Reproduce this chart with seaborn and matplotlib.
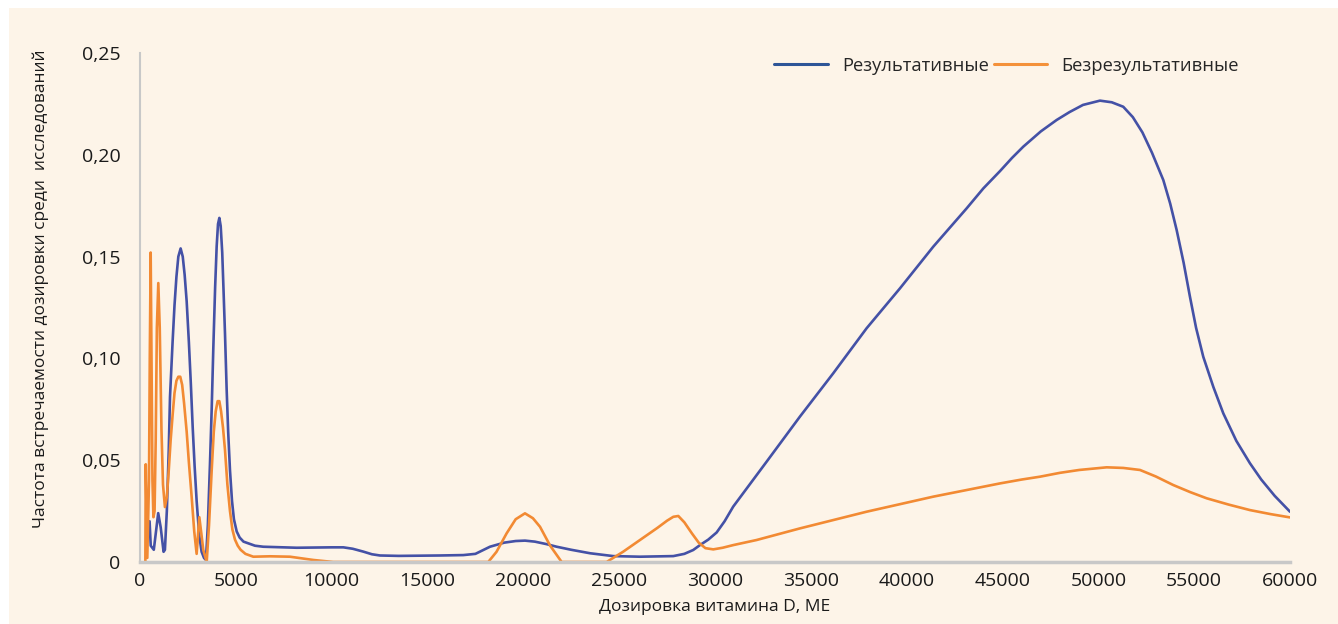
import matplotlib
matplotlib.use("Agg")

import matplotlib.pyplot as plt
import matplotlib.patches as mpatches
from matplotlib.ticker import MultipleLocator, FuncFormatter
import seaborn as sns
import pandas as pd

# Результативные (blue)
res_x = [500, 560, 720, 950, 1080, 1230, 1300, 1400, 1500, 1565, 1700, 1800, 1900,
         2000, 2120, 2230, 2330, 2435, 2550, 2650, 2750, 2850, 2955, 3090, 3215, 3340,
         3440, 3540, 3650, 3740, 3825, 3920, 4000, 4070, 4140, 4210, 4290, 4360, 4435,
         4520, 4600, 4695, 4800, 4900, 5045, 5200, 5400, 5700, 6000, 6430, 8175, 10000,
         10610, 11100, 11650, 12100, 12520, 13500, 15650, 16870, 17500, 18260, 19000,
         19600, 20085, 20600, 21200, 21740, 22500, 23480, 24690, 26085, 27825, 28400,
         28865, 29215, 29650, 30085, 30500, 30950, 32695, 34430, 36170, 37910, 39650,
         41390, 43130, 44000, 44870, 45500, 46085, 47000, 47825, 48500, 49200, 50085,
         50700, 51300, 51800, 52300, 52800, 53390, 53750, 54085, 54450, 54780, 55100,
         55475, 56000, 56520, 57200, 57910, 58500, 59200, 60000]
res_y = [0.020, 0.008, 0.006, 0.024, 0.017, 0.005, 0.006, 0.025, 0.055, 0.081, 0.108,
         0.126, 0.140, 0.150, 0.154, 0.150, 0.141, 0.128, 0.108, 0.088, 0.066, 0.047,
         0.030, 0.013, 0.005, 0.002, 0.001, 0.018, 0.048, 0.075, 0.105, 0.135, 0.155,
         0.166, 0.169, 0.165, 0.152, 0.133, 0.112, 0.085, 0.064, 0.045, 0.030, 0.021,
         0.015, 0.012, 0.010, 0.009, 0.008, 0.0075, 0.0070, 0.0072, 0.0072, 0.0065,
         0.0051, 0.0038, 0.0032, 0.0030, 0.0032, 0.0034, 0.0040, 0.0075, 0.0095,
         0.0103, 0.0105, 0.0100, 0.0088, 0.0075, 0.0060, 0.0043, 0.0029, 0.0026,
         0.0029, 0.0040, 0.0059, 0.0083, 0.0110, 0.0145, 0.0200, 0.0272, 0.0493,
         0.0714, 0.0927, 0.1148, 0.1344, 0.1549, 0.1737, 0.1835, 0.1920, 0.1985,
         0.2040, 0.2115, 0.2171, 0.2210, 0.2245, 0.2266, 0.2258, 0.2236, 0.2185,
         0.2110, 0.2010, 0.1876, 0.1760, 0.1631, 0.1470, 0.1303, 0.1150, 0.1008,
         0.0860, 0.0730, 0.0595, 0.0485, 0.0405, 0.0325, 0.0247]

# Безрезультативные (orange)
bez_x = [280, 300, 380, 470, 510, 557, 600, 650, 700, 760, 820, 880, 955, 1030, 1120,
         1200, 1300, 1400, 1500, 1600, 1700, 1800, 1900, 2000, 2100, 2200, 2300, 2435,
         2550, 2695, 2830, 2955, 3095, 3200, 3300, 3480, 3600, 3740, 3850, 3950, 4050,
         4140, 4230, 4330, 4435, 4560, 4695, 4820, 4955, 5100, 5250, 5500, 5910, 6780,
         7825, 9040, 10085, 17000, 18170, 18600, 19130, 19600, 20085, 20500, 20870,
         21400, 22000, 24345, 25200, 26085, 27000, 27500, 27825, 28085, 28400, 28800,
         29150, 29500, 29910, 30400, 30950, 32170, 34430, 37910, 41390, 44870, 46000,
         46955, 48000, 49000, 50435, 51300, 52175, 53000, 53910, 54800, 55650, 56800,
         57910, 59000, 60000]
bez_y = [0.0, 0.048, 0.002, 0.040, 0.100, 0.152, 0.100, 0.040, 0.022, 0.025, 0.060,
         0.115, 0.137, 0.115, 0.065, 0.038, 0.027, 0.032, 0.045, 0.060, 0.072, 0.083,
         0.089, 0.091, 0.091, 0.087, 0.078, 0.064, 0.049, 0.032, 0.015, 0.004, 0.022,
         0.014, 0.006, 0.0, 0.018, 0.045, 0.064, 0.074, 0.079, 0.079, 0.074, 0.066,
         0.055, 0.038, 0.025, 0.016, 0.011, 0.008, 0.006, 0.004, 0.0026, 0.0028,
         0.0026, 0.0010, 0.0, 0.0, 0.0, 0.005, 0.0141, 0.0210, 0.0239, 0.0215, 0.0173,
         0.0080, 0.0, 0.0, 0.0050, 0.0108, 0.0168, 0.0203, 0.0222, 0.0226, 0.0195,
         0.0140, 0.0095, 0.0068, 0.0062, 0.0070, 0.0083, 0.0108, 0.0165, 0.0247,
         0.0321, 0.0386, 0.0405, 0.0419, 0.0438, 0.0452, 0.0465, 0.0462, 0.0452,
         0.0420, 0.0378, 0.0343, 0.0313, 0.0282, 0.0255, 0.0235, 0.0219]

labels = ["Результативные", "Безрезультативные"]
palette = {"Результативные": "#4451a6", "Безрезультативные": "#f28a33"}

df = pd.concat([
    pd.DataFrame({"x": res_x, "y": res_y, "group": labels[0]}),
    pd.DataFrame({"x": bez_x, "y": bez_y, "group": labels[1]}),
])

sns.set_style("white")
plt.rcParams["font.family"] = ["Open Sans", "DejaVu Sans"]

bg = "#fdf4e8"
fig = plt.figure(figsize=(13.38, 6.24), dpi=100)
fig.patch.set_facecolor("white")
fig.patches.append(mpatches.Rectangle((9 / 1338, 0), 1, 1 - 8 / 624,
                                      transform=fig.transFigure, facecolor=bg,
                                      edgecolor="none", zorder=-10))
ax = fig.add_axes([140 / 1338, 1 - 562 / 624, 1150 / 1338, 509 / 624])
ax.set_facecolor(bg)

sns.lineplot(data=df, x="x", y="y", hue="group", palette=palette, estimator=None,
             sort=False, linewidth=1.9, ax=ax)

ax.set_xlim(0, 60000)
ax.set_ylim(0, 0.25)
ax.xaxis.set_major_locator(MultipleLocator(5000))
ax.xaxis.set_minor_locator(MultipleLocator(1000))
ax.yaxis.set_major_locator(MultipleLocator(0.05))
ax.yaxis.set_major_formatter(FuncFormatter(
    lambda v, p: "0" if abs(v) < 1e-9 else f"{v:.2f}".replace(".", ",")))
ax.xaxis.set_major_formatter(FuncFormatter(lambda v, p: f"{int(v)}"))

for s in ["top", "right"]:
    ax.spines[s].set_visible(False)
ax.spines["left"].set_color("#c8c8c8")
ax.spines["left"].set_linewidth(1.5)
ax.spines["bottom"].set_color("#c8c8c8")
ax.spines["bottom"].set_linewidth(2.5)

ax.tick_params(axis="x", which="major", direction="inout", length=9, width=1.2,
               color="#b0b0b0", labelsize=14, pad=3, labelcolor="#1a1a1a")
ax.tick_params(axis="x", which="minor", direction="inout", length=5, width=1,
               color="#b0b0b0")
ax.tick_params(axis="y", which="major", direction="out", length=5, width=1.2,
               color="#c8c8c8", labelsize=14, pad=9, labelcolor="#1a1a1a")

ax.set_xlabel("Дозировка витамина D, МЕ", fontsize=12.5, color="#1a1a1a", labelpad=6)
ax.set_ylabel("Частота встречаемости дозировки среди  исследований", fontsize=12.5,
              color="#1a1a1a")
ax.yaxis.set_label_coords(-0.079, 0.536)

leg = ax.legend(loc="upper right", bbox_to_anchor=(0.97, 1.025), ncol=2, frameon=False,
                fontsize=13.2, handlelength=2.9, columnspacing=0.25, handletextpad=0.8)
for line in leg.get_lines():
    line.set_linewidth(2.2)
leg.get_lines()[0].set_color("#2e5597")
leg.get_lines()[1].set_color("#f4913a")

fig.savefig("out.png", dpi=100, facecolor=fig.get_facecolor())
